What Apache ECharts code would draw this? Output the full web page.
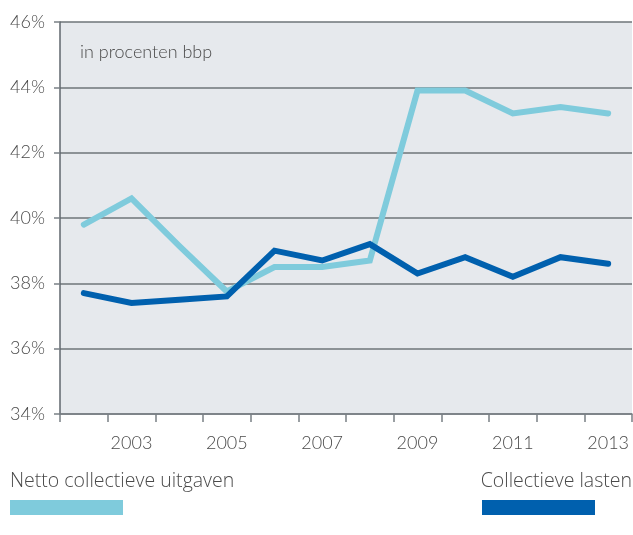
<!DOCTYPE html>
<html><head><meta charset="utf-8">
<script src="https://cdn.jsdelivr.net/npm/echarts@6/dist/echarts.min.js"></script>
<style>html,body{margin:0;padding:0;background:#fff}#c{width:633px;height:535px}</style>
</head><body><div id="c"></div>
<script>
const years = ['2002','2003','2004','2005','2006','2007','2008','2009','2010','2011','2012','2013'];
const nettoUitgaven = [39.8, 40.6, 39.15, 37.75, 38.5, 38.5, 38.7, 43.9, 43.9, 43.2, 43.4, 43.2];
const collectieveLasten = [37.7, 37.4, 37.5, 37.6, 39.0, 38.7, 39.2, 38.3, 38.8, 38.2, 38.8, 38.6];
const yTicks = {min: 34, max: 46, interval: 2};
const seriesNames = ['Netto collectieve uitgaven', 'Collectieve lasten'];
const colors = ['#7fcbdc', '#0060ae'];
const font = 'Lato, "Open Sans", sans-serif';
const legendFont = '"Open Sans", sans-serif';
const txt = '#4a4a4a';

const chart = echarts.init(document.getElementById('c'), null, {renderer: 'canvas'});
chart.setOption({
  animation: false,
  grid: {left: 60, right: 1, top: 22, bottom: 121, show: true, backgroundColor: '#e6e9ed', borderWidth: 0},
  xAxis: {
    type: 'category', data: years, boundaryGap: true,
    axisLine: {lineStyle: {color: '#7a8085', width: 1.5}},
    axisTick: {show: true, length: 8, interval: 0, lineStyle: {color: '#7a8085', width: 1.5}},
    axisLabel: {interval: (i) => i % 2 === 1, color: txt, fontSize: 18, fontWeight: 300, fontFamily: font, margin: 20}
  },
  yAxis: {
    type: 'value', min: yTicks.min, max: yTicks.max, interval: yTicks.interval,
    axisLine: {show: true, lineStyle: {color: '#5f666c', width: 1.5}},
    axisTick: {show: true, length: 6, lineStyle: {color: '#7a8085', width: 1.5}},
    splitLine: {show: true, lineStyle: {color: '#6e7479', width: 1.5}},
    axisLabel: {formatter: '{value}%', color: txt, fontSize: 18, fontWeight: 300, fontFamily: font, margin: 15}
  },
  graphic: [
    {type: 'text', left: 80, top: 43, style: {text: 'in procenten bbp', fontSize: 18, fontWeight: 300, fontFamily: font, fill: txt}},
    {type: 'text', left: 10, top: 471, style: {text: seriesNames[0], fontSize: 19.5, fontWeight: 300, fontFamily: legendFont, fill: '#4a4a4a'}},
    {type: 'rect', shape: {x: 10, y: 500, width: 113, height: 15}, style: {fill: colors[0]}},
    {type: 'text', right: 1, top: 471, style: {text: seriesNames[1], fontSize: 19.5, fontWeight: 300, fontFamily: legendFont, fill: '#4a4a4a'}},
    {type: 'rect', shape: {x: 482, y: 500, width: 113, height: 15}, style: {fill: colors[1]}}
  ],
  series: [
    {name: seriesNames[0], type: 'line', data: nettoUitgaven, symbol: 'none', lineStyle: {color: colors[0], width: 6, cap: 'round', join: 'miter'}},
    {name: seriesNames[1], type: 'line', data: collectieveLasten, symbol: 'none', lineStyle: {color: colors[1], width: 6, cap: 'round', join: 'miter'}}
  ]
});
</script></body></html>
